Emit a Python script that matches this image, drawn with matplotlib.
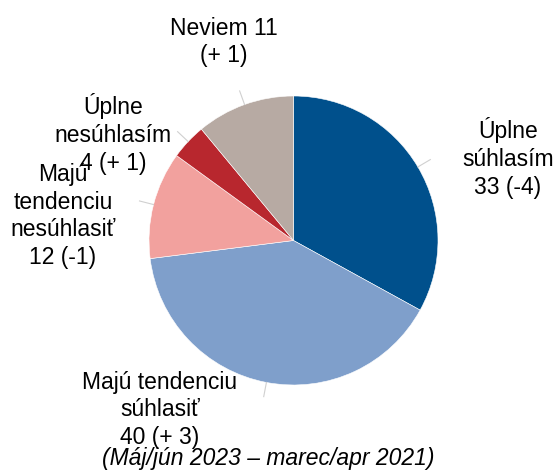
import numpy as np
import matplotlib
matplotlib.use('Agg')
import matplotlib.pyplot as plt

plt.rcParams['font.family'] = ['Liberation Sans', 'DejaVu Sans']

# data (in drawing order, clockwise from top)
labels = ['Úplne\nsúhlasím', 'Majú tendenciu\nsúhlasiť', 'Majú\ntendenciu\nnesúhlasiť',
          'Úplne\nnesúhlasím', 'Neviem']
values = [33, 40, 12, 4, 11]
changes = ['(-4)', '(+ 3)', '(-1)', '(+ 1)', '(+ 1)']
colors = ['#00508C', '#7F9FCB', '#F2A19E', '#B8272E', '#B7AAA3']
footer = '(Máj/jún 2023 – marec/apr 2021)'

W, H = 557, 470
fig = plt.figure(figsize=(W / 100, H / 100), dpi=100)
ax = fig.add_axes([0, 0, 1, 1])

cx, cy, r = 293.5, H - 240.5, 144.5
wedges, _ = ax.pie(values, colors=colors, startangle=90, counterclock=False,
                   center=(cx, cy), radius=r,
                   wedgeprops=dict(linewidth=0.4, edgecolor='white'))
ax.set_xlim(0, W)
ax.set_ylim(0, H)
ax.set_aspect('equal')
ax.axis('off')

# small grey leader lines at wedge middles
for w in wedges:
    a = np.deg2rad((w.theta1 + w.theta2) / 2)
    ax.plot([cx + r * 1.0 * np.cos(a), cx + r * 1.1 * np.cos(a)],
            [cy + r * 1.0 * np.sin(a), cy + r * 1.1 * np.sin(a)],
            color='#D0D0D0', lw=0.8)

# label anchors in pixel coords (x, y from top)
label_pos = [(508, 158), (160, 410), (63, 216), (113, 134), (224, 42)]
for i, (lab, v, ch) in enumerate(zip(labels, values, changes)):
    if lab == 'Neviem':
        txt = f'{lab} {v}\n{ch}'
    else:
        txt = f'{lab}\n{v} {ch}'
    x, y = label_pos[i]
    ax.text(x, H - y, txt, ha='center', va='center', fontsize=16.5,
            linespacing=1.27, color='black')

ax.text(268, H - 458, footer, ha='center', va='center', fontsize=16.5,
        style='italic', color='black')

fig.savefig('out.png', dpi=100)
